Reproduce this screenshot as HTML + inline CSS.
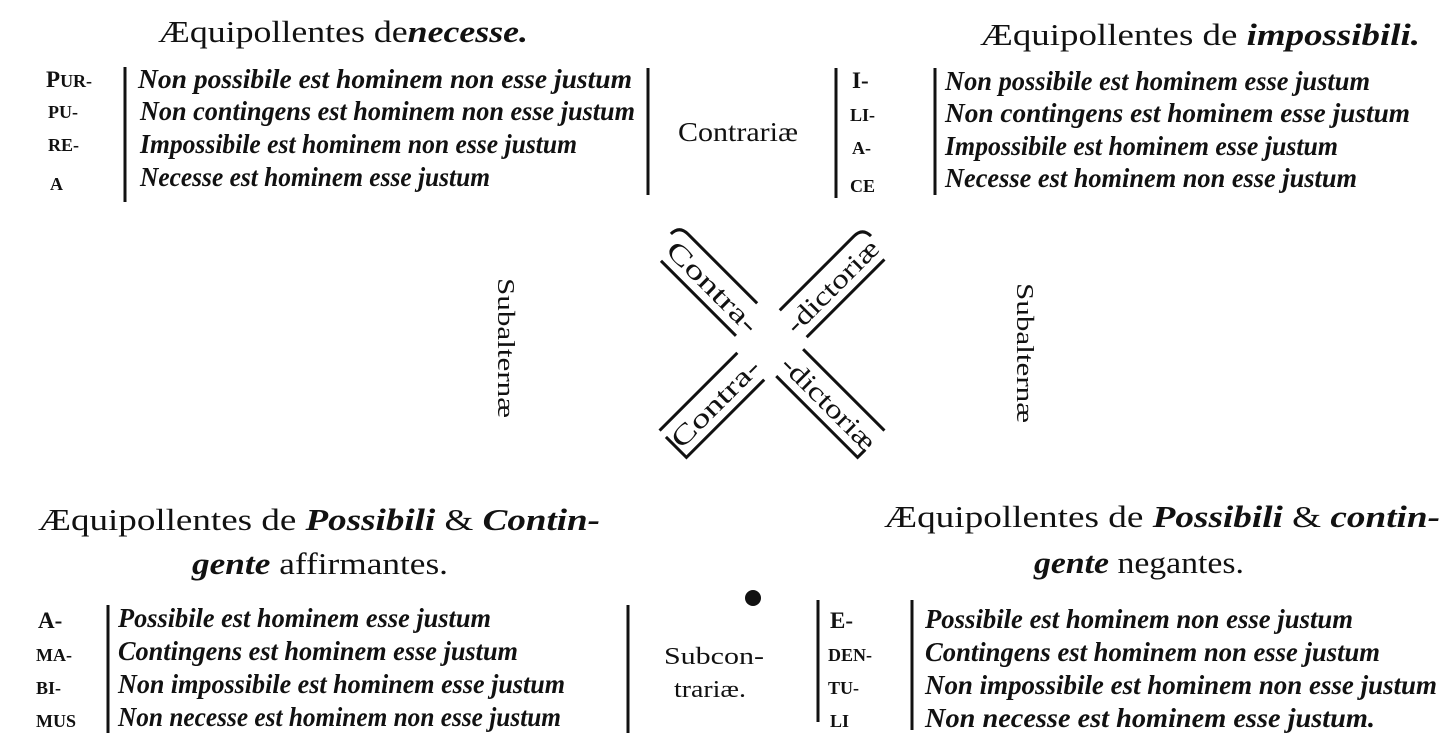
<!DOCTYPE html>
<html><head><meta charset="utf-8"><style>
html,body{margin:0;padding:0;background:#fff;}
svg{display:block}
text{font-family:"Liberation Serif",serif;fill:#111;}
.i{font-style:italic;font-weight:bold;font-size:27px;}
.t{font-size:31px;}
.sc{font-size:18px;font-weight:bold;}
.cap{font-size:23px;font-weight:bold;}
</style></head><body>
<svg width="1452" height="751" viewBox="0 0 1452 751" xmlns="http://www.w3.org/2000/svg">
<g stroke="#111" stroke-width="3" fill="none">
<line x1="125" y1="67" x2="125" y2="202"/>
<line x1="648" y1="68" x2="648" y2="195"/>
<line x1="836" y1="68" x2="836" y2="198"/>
<line x1="935" y1="68" x2="935" y2="195"/>
<line x1="108" y1="605" x2="108" y2="733"/>
<line x1="628" y1="605" x2="628" y2="733"/>
<line x1="818" y1="600" x2="818" y2="722"/>
<line x1="912" y1="600" x2="912" y2="730"/>
</g>
<circle cx="753" cy="598" r="8" fill="#111"/>

<text class="t" x="158" y="42" textLength="370" lengthAdjust="spacingAndGlyphs">Æquipollentes de<tspan font-style="italic" font-weight="bold">necesse.</tspan></text>
<text class="t" x="980" y="45" textLength="440" lengthAdjust="spacingAndGlyphs">Æquipollentes de <tspan font-style="italic" font-weight="bold">impossibili.</tspan></text>

<text class="cap" x="46" y="87">P<tspan class="sc">UR-</tspan></text>
<text class="sc" x="48" y="118">PU-</text>
<text class="sc" x="48" y="151">RE-</text>
<text class="sc" x="50" y="190">A</text>
<text class="i" x="138" y="88" textLength="494" lengthAdjust="spacingAndGlyphs">Non possibile est hominem non esse justum</text>
<text class="i" x="140" y="120" textLength="495" lengthAdjust="spacingAndGlyphs">Non contingens est hominem non esse justum</text>
<text class="i" x="140" y="153" textLength="437" lengthAdjust="spacingAndGlyphs">Impossibile est hominem non esse justum</text>
<text class="i" x="140" y="186" textLength="350" lengthAdjust="spacingAndGlyphs">Necesse est hominem esse justum</text>

<text x="678" y="141" font-size="27" textLength="120" lengthAdjust="spacingAndGlyphs">Contrariæ</text>

<text class="cap" x="852" y="88">I-</text>
<text class="sc" x="850" y="121">LI-</text>
<text class="sc" x="852" y="154">A-</text>
<text class="sc" x="850" y="192">CE</text>
<text class="i" x="945" y="90" textLength="425" lengthAdjust="spacingAndGlyphs">Non possibile est hominem esse justum</text>
<text class="i" x="945" y="122" textLength="465" lengthAdjust="spacingAndGlyphs">Non contingens est hominem esse justum</text>
<text class="i" x="945" y="155" textLength="393" lengthAdjust="spacingAndGlyphs">Impossibile est hominem esse justum</text>
<text class="i" x="945" y="187" textLength="412" lengthAdjust="spacingAndGlyphs">Necesse est hominem non esse justum</text>

<text font-size="24" transform="translate(498,278) rotate(90)" textLength="140" lengthAdjust="spacingAndGlyphs">Subalternæ</text>
<text font-size="24" transform="translate(1017,283) rotate(90)" textLength="140" lengthAdjust="spacingAndGlyphs">Subalternæ</text>

<g transform="translate(772,345) rotate(45)">
<path d="M-40,-19 L-138,-19 Q-150,-19 -150,-7" stroke="#111" stroke-width="3" fill="none"/>
<line x1="-138" y1="19" x2="-32" y2="19" stroke="#111" stroke-width="3"/>
<text x="-142" y="10" font-size="27" textLength="118" lengthAdjust="spacingAndGlyphs">Contra-</text>
<line x1="25" y1="-19" x2="140" y2="-19" stroke="#111" stroke-width="3"/>
<path d="M25,19 L140,19 L140,8" stroke="#111" stroke-width="3" fill="none"/>
<text x="20" y="10" font-size="27" textLength="122" lengthAdjust="spacingAndGlyphs">-dictoriæ</text>
</g>
<g transform="translate(772,345) rotate(-45)">
<line x1="-140" y1="-19" x2="-30" y2="-19" stroke="#111" stroke-width="3"/>
<path d="M-140,-10 L-140,19 L-30,19" stroke="#111" stroke-width="3" fill="none"/>
<text x="-138" y="10" font-size="27" textLength="114" lengthAdjust="spacingAndGlyphs">Contra-</text>
<path d="M30,-19 L135,-19 Q147,-19 147,-7" stroke="#111" stroke-width="3" fill="none"/>
<line x1="30" y1="19" x2="140" y2="19" stroke="#111" stroke-width="3"/>
<text x="24" y="10" font-size="27" textLength="120" lengthAdjust="spacingAndGlyphs">-dictoriæ</text>
</g>

<text class="t" x="38" y="530" textLength="562" lengthAdjust="spacingAndGlyphs">Æquipollentes de <tspan font-style="italic" font-weight="bold">Possibili</tspan> &amp; <tspan font-style="italic" font-weight="bold">Contin-</tspan></text>
<text class="t" x="192" y="574" textLength="256" lengthAdjust="spacingAndGlyphs"><tspan font-style="italic" font-weight="bold">gente</tspan> affirmantes.</text>
<text class="t" x="884" y="527" textLength="556" lengthAdjust="spacingAndGlyphs">Æquipollentes de <tspan font-style="italic" font-weight="bold">Possibili</tspan> &amp; <tspan font-style="italic" font-weight="bold">contin-</tspan></text>
<text class="t" x="1034" y="573" textLength="210" lengthAdjust="spacingAndGlyphs"><tspan font-style="italic" font-weight="bold">gente</tspan> negantes.</text>

<text class="cap" x="38" y="628">A-</text>
<text class="sc" x="36" y="661">MA-</text>
<text class="sc" x="36" y="694">BI-</text>
<text class="sc" x="36" y="727">MUS</text>
<text class="i" x="118" y="627" textLength="373" lengthAdjust="spacingAndGlyphs">Possibile est hominem esse justum</text>
<text class="i" x="118" y="660" textLength="400" lengthAdjust="spacingAndGlyphs">Contingens est hominem esse justum</text>
<text class="i" x="118" y="693" textLength="447" lengthAdjust="spacingAndGlyphs">Non impossibile est hominem esse justum</text>
<text class="i" x="118" y="726" textLength="443" lengthAdjust="spacingAndGlyphs">Non necesse est hominem non esse justum</text>

<text x="664" y="664" font-size="24" textLength="100" lengthAdjust="spacingAndGlyphs">Subcon-</text>
<text x="674" y="697" font-size="24" textLength="72" lengthAdjust="spacingAndGlyphs">trariæ.</text>

<text class="cap" x="830" y="628">E-</text>
<text class="sc" x="828" y="661">DEN-</text>
<text class="sc" x="828" y="694">TU-</text>
<text class="sc" x="830" y="727">LI</text>
<text class="i" x="925" y="628" textLength="428" lengthAdjust="spacingAndGlyphs">Possibile est hominem non esse justum</text>
<text class="i" x="925" y="661" textLength="455" lengthAdjust="spacingAndGlyphs">Contingens est hominem non esse justum</text>
<text class="i" x="925" y="694" textLength="512" lengthAdjust="spacingAndGlyphs">Non impossibile est hominem non esse justum</text>
<text class="i" x="925" y="727" textLength="450" lengthAdjust="spacingAndGlyphs">Non necesse est hominem esse justum.</text>
</svg>
</body></html>
